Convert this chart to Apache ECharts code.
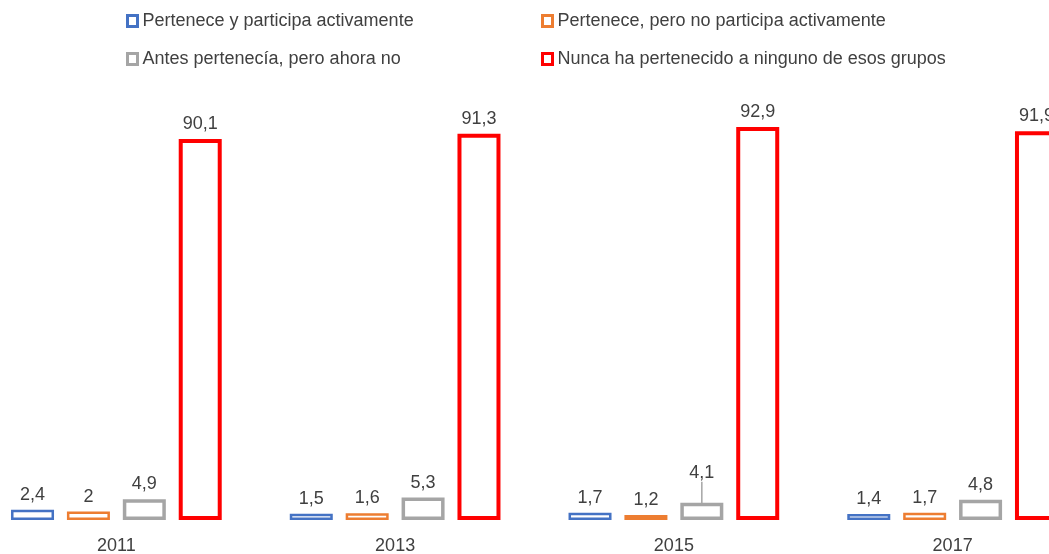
<!DOCTYPE html>
<html>
<head>
<meta charset="utf-8">
<script src="https://cdn.jsdelivr.net/npm/echarts@6/dist/echarts.min.js"></script>
<style>
  html, body { margin: 0; padding: 0; background: #fff; }
  #chart { width: 1049px; height: 554px; }
</style>
</head>
<body>
<div id="chart"></div>
<script>
// Survey years and membership status shares (%)
const years = ['2011', '2013', '2015', '2017'];
const seriesNames = [
  'Pertenece y participa activamente',
  'Pertenece, pero no participa activamente',
  'Antes pertenecía, pero ahora no',
  'Nunca ha pertenecido a ninguno de esos grupos'
];
const participaActivamente = [2.4, 1.5, 1.7, 1.4];
const noParticipa = [2.0, 1.6, 1.2, 1.7];
const antesPertenecia = [4.9, 5.3, 4.1, 4.8];
const nuncaPertenecido = [90.1, 91.3, 92.9, 91.9];

const colors = ['#4472C4', '#ED7D31', '#A5A5A5', '#FF0000'];
const borderWidths = [2.5, 2.5, 3.5, 4];
const valuesList = [participaActivamente, noParticipa, antesPertenecia, nuncaPertenecido];

const FONT = 'Liberation Sans';
const TEXT_COLOR = '#404040';

const fmt = v => String(v).replace('.', ',');

const chart = echarts.init(document.getElementById('chart'), null, { renderer: 'canvas' });

const series = valuesList.map((vals, i) => ({
  name: seriesNames[i],
  type: 'bar',
  clip: false,
  // the 2015 "antes pertenecía" label is lifted and tied back with a leader line
  data: vals.map((v, j) => (i === 2 && j === 2)
    ? { value: v, labelLine: { show: true, lineStyle: { color: '#A5A5A5', width: 1.5 } } }
    : v),
  barWidth: 43,
  barGap: '30%',
  itemStyle: {
    color: '#ffffff',
    borderColor: colors[i],
    borderWidth: borderWidths[i]
  },
  label: {
    show: true,
    position: 'top',
    distance: 6,
    fontFamily: FONT,
    fontSize: 18,
    color: TEXT_COLOR,
    formatter: p => fmt(p.value)
  },
  labelLine: { show: false },
  labelLayout: p => (i === 2 && p.dataIndex === 2) ? { dy: -15 } : {}
}));

const legendBase = {
  orient: 'vertical',
  top: 7,
  itemWidth: 10,
  itemHeight: 11,
  itemGap: 20,
  icon: 'rect',
  itemStyle: { borderWidth: 3 },
  textStyle: { fontFamily: FONT, fontSize: 18, lineHeight: 18, color: TEXT_COLOR, padding: [0, 0, 0, 0] }
};

chart.setOption({
  animation: false,
  color: colors,
  legend: [
    Object.assign({}, legendBase, { data: [seriesNames[0], seriesNames[2]], left: 121 }),
    Object.assign({}, legendBase, { data: [seriesNames[1], seriesNames[3]], left: 536 })
  ],
  grid: {
    left: -23,
    width: 1115,
    top: 97,
    bottom: 34,
    containLabel: false,
    outerBoundsMode: 'none'
  },
  xAxis: {
    type: 'category',
    data: years,
    axisLine: { show: false },
    axisTick: { show: false },
    axisLabel: {
      fontFamily: FONT,
      fontSize: 18,
      color: TEXT_COLOR,
      margin: 17
    }
  },
  yAxis: {
    type: 'value',
    min: 0,
    max: 100,
    show: false,
    splitLine: { show: false }
  },
  series: series
});
</script>
</body>
</html>
